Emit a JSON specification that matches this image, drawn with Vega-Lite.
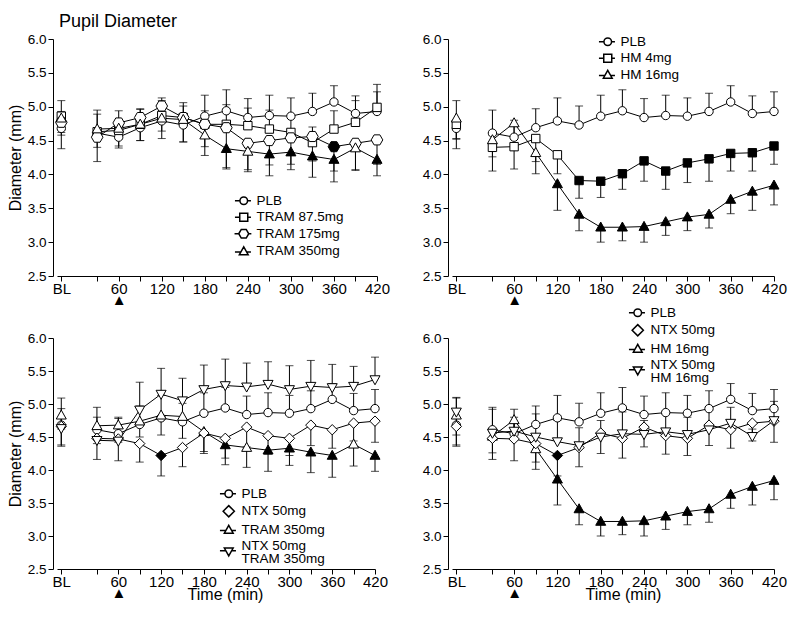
{
"$schema": "https://vega.github.io/schema/vega-lite/v6.json",
"background": "white",
"padding": {"left": 7, "top": 13, "right": 5, "bottom": 5},
"config": {
  "font": "Liberation Sans",
  "view": {"stroke": null},
  "style": {"guide-label": {"lineHeight": 12.5}},
  "axis": {"domainColor": "black", "tickColor": "black", "labelColor": "black", "titleColor": "black", "grid": false, "tickSize": 5, "domainWidth": 1, "tickWidth": 1, "titleFontWeight": "normal", "labelFlush": false, "labelOverlap": false, "labelFont": "Liberation Sans", "titleFont": "Liberation Sans"},
  "axisX": {"labelFontSize": 15, "labelPadding": 0, "labelLineHeight": 11, "titleFontSize": 16},
  "axisY": {"labelFontSize": 13.5, "labelPadding": 2, "offset": 4, "titleFontSize": 16, "titlePadding": 4},
  "legend": {"labelFont": "Liberation Sans", "labelFontSize": 13.5, "labelColor": "black", "symbolSize": 64, "labelOffset": 6, "rowPadding": 1.5, "padding": 0}
},
"datasets": {"d": [
{"s":"PLB","t":-20,"m":4.68,"hi":5.09,"lo":4.38,"f":0},
{"s":"PLB","t":30,"m":4.61,"hi":4.95,"lo":null,"f":0},
{"s":"PLB","t":60,"m":4.55,"hi":4.80,"lo":null,"f":0},
{"s":"PLB","t":90,"m":4.69,"hi":4.97,"lo":null,"f":0},
{"s":"PLB","t":120,"m":4.79,"hi":5.13,"lo":null,"f":0},
{"s":"PLB","t":150,"m":4.73,"hi":5.01,"lo":null,"f":0},
{"s":"PLB","t":180,"m":4.86,"hi":5.17,"lo":null,"f":0},
{"s":"PLB","t":210,"m":4.94,"hi":5.25,"lo":null,"f":0},
{"s":"PLB","t":240,"m":4.84,"hi":5.12,"lo":null,"f":0},
{"s":"PLB","t":270,"m":4.87,"hi":5.17,"lo":null,"f":0},
{"s":"PLB","t":300,"m":4.86,"hi":5.13,"lo":null,"f":0},
{"s":"PLB","t":330,"m":4.93,"hi":5.20,"lo":null,"f":0},
{"s":"PLB","t":360,"m":5.07,"hi":5.31,"lo":null,"f":0},
{"s":"PLB","t":390,"m":4.90,"hi":5.16,"lo":null,"f":0},
{"s":"PLB","t":420,"m":4.93,"hi":5.22,"lo":null,"f":0},
{"s":"TRAM 87.5mg","t":-20,"m":4.86,"hi":4.93,"lo":null,"f":0},
{"s":"TRAM 87.5mg","t":30,"m":4.63,"hi":4.89,"lo":null,"f":0},
{"s":"TRAM 87.5mg","t":60,"m":4.65,"hi":4.94,"lo":null,"f":0},
{"s":"TRAM 87.5mg","t":90,"m":4.74,"hi":4.96,"lo":null,"f":0},
{"s":"TRAM 87.5mg","t":120,"m":4.87,"hi":5.09,"lo":null,"f":0},
{"s":"TRAM 87.5mg","t":150,"m":4.84,"hi":5.06,"lo":null,"f":0},
{"s":"TRAM 87.5mg","t":180,"m":4.74,"hi":4.94,"lo":null,"f":0},
{"s":"TRAM 87.5mg","t":210,"m":4.74,"hi":5.03,"lo":null,"f":0},
{"s":"TRAM 87.5mg","t":240,"m":4.72,"hi":4.98,"lo":null,"f":0},
{"s":"TRAM 87.5mg","t":270,"m":4.67,"hi":4.95,"lo":null,"f":0},
{"s":"TRAM 87.5mg","t":300,"m":4.62,"hi":4.88,"lo":null,"f":0},
{"s":"TRAM 87.5mg","t":330,"m":4.47,"hi":4.70,"lo":null,"f":0},
{"s":"TRAM 87.5mg","t":360,"m":4.67,"hi":4.94,"lo":null,"f":0},
{"s":"TRAM 87.5mg","t":390,"m":4.77,"hi":5.09,"lo":null,"f":0},
{"s":"TRAM 87.5mg","t":420,"m":4.99,"hi":5.33,"lo":null,"f":0},
{"s":"TRAM 175mg","t":-20,"m":4.77,"hi":null,"lo":4.58,"f":0},
{"s":"TRAM 175mg","t":30,"m":4.55,"hi":null,"lo":4.19,"f":0},
{"s":"TRAM 175mg","t":60,"m":4.76,"hi":null,"lo":4.39,"f":0},
{"s":"TRAM 175mg","t":90,"m":4.84,"hi":null,"lo":4.50,"f":0},
{"s":"TRAM 175mg","t":120,"m":5.01,"hi":null,"lo":4.64,"f":0},
{"s":"TRAM 175mg","t":150,"m":4.84,"hi":null,"lo":4.48,"f":0},
{"s":"TRAM 175mg","t":180,"m":4.74,"hi":null,"lo":4.41,"f":0},
{"s":"TRAM 175mg","t":210,"m":4.69,"hi":null,"lo":4.10,"f":0},
{"s":"TRAM 175mg","t":240,"m":4.46,"hi":null,"lo":4.07,"f":0},
{"s":"TRAM 175mg","t":270,"m":4.50,"hi":null,"lo":4.14,"f":0},
{"s":"TRAM 175mg","t":300,"m":4.54,"hi":null,"lo":4.15,"f":0},
{"s":"TRAM 175mg","t":330,"m":4.56,"hi":null,"lo":4.20,"f":0},
{"s":"TRAM 175mg","t":360,"m":4.41,"hi":null,"lo":4.05,"f":1},
{"s":"TRAM 175mg","t":390,"m":4.46,"hi":null,"lo":4.07,"f":0},
{"s":"TRAM 175mg","t":420,"m":4.51,"hi":null,"lo":4.15,"f":0},
{"s":"TRAM 350mg","t":-20,"m":4.83,"hi":null,"lo":4.62,"f":0},
{"s":"TRAM 350mg","t":30,"m":4.67,"hi":null,"lo":4.40,"f":0},
{"s":"TRAM 350mg","t":60,"m":4.68,"hi":null,"lo":4.42,"f":0},
{"s":"TRAM 350mg","t":90,"m":4.74,"hi":null,"lo":4.50,"f":0},
{"s":"TRAM 350mg","t":120,"m":4.83,"hi":null,"lo":4.53,"f":0},
{"s":"TRAM 350mg","t":150,"m":4.81,"hi":null,"lo":4.48,"f":0},
{"s":"TRAM 350mg","t":180,"m":4.58,"hi":null,"lo":4.28,"f":0},
{"s":"TRAM 350mg","t":210,"m":4.38,"hi":null,"lo":4.08,"f":1},
{"s":"TRAM 350mg","t":240,"m":4.34,"hi":null,"lo":4.04,"f":0},
{"s":"TRAM 350mg","t":270,"m":4.30,"hi":null,"lo":3.98,"f":1},
{"s":"TRAM 350mg","t":300,"m":4.33,"hi":null,"lo":4.07,"f":1},
{"s":"TRAM 350mg","t":330,"m":4.27,"hi":null,"lo":3.96,"f":1},
{"s":"TRAM 350mg","t":360,"m":4.22,"hi":null,"lo":3.89,"f":1},
{"s":"TRAM 350mg","t":390,"m":4.39,"hi":null,"lo":4.06,"f":0},
{"s":"TRAM 350mg","t":420,"m":4.22,"hi":null,"lo":3.98,"f":1},
{"s":"HM 4mg","t":-20,"m":4.74,"hi":null,"lo":4.52,"f":0},
{"s":"HM 4mg","t":30,"m":4.40,"hi":null,"lo":4.05,"f":0},
{"s":"HM 4mg","t":60,"m":4.41,"hi":null,"lo":4.08,"f":0},
{"s":"HM 4mg","t":90,"m":4.53,"hi":null,"lo":4.19,"f":0},
{"s":"HM 4mg","t":120,"m":4.29,"hi":null,"lo":4.01,"f":0},
{"s":"HM 4mg","t":150,"m":3.91,"hi":null,"lo":3.65,"f":1},
{"s":"HM 4mg","t":180,"m":3.90,"hi":null,"lo":3.66,"f":1},
{"s":"HM 4mg","t":210,"m":4.01,"hi":null,"lo":3.78,"f":1},
{"s":"HM 4mg","t":240,"m":4.20,"hi":null,"lo":3.90,"f":1},
{"s":"HM 4mg","t":270,"m":4.05,"hi":null,"lo":3.78,"f":1},
{"s":"HM 4mg","t":300,"m":4.17,"hi":null,"lo":3.88,"f":1},
{"s":"HM 4mg","t":330,"m":4.23,"hi":null,"lo":3.90,"f":1},
{"s":"HM 4mg","t":360,"m":4.31,"hi":null,"lo":4.05,"f":1},
{"s":"HM 4mg","t":390,"m":4.32,"hi":null,"lo":4.05,"f":1},
{"s":"HM 4mg","t":420,"m":4.42,"hi":null,"lo":4.15,"f":1},
{"s":"HM 16mg","t":-20,"m":4.83,"hi":null,"lo":4.53,"f":0},
{"s":"HM 16mg","t":30,"m":4.51,"hi":null,"lo":4.26,"f":0},
{"s":"HM 16mg","t":60,"m":4.76,"hi":null,"lo":4.55,"f":0},
{"s":"HM 16mg","t":90,"m":4.32,"hi":null,"lo":4.01,"f":0},
{"s":"HM 16mg","t":120,"m":3.86,"hi":null,"lo":3.47,"f":1},
{"s":"HM 16mg","t":150,"m":3.41,"hi":null,"lo":3.17,"f":1},
{"s":"HM 16mg","t":180,"m":3.22,"hi":null,"lo":3.00,"f":1},
{"s":"HM 16mg","t":210,"m":3.22,"hi":null,"lo":3.02,"f":1},
{"s":"HM 16mg","t":240,"m":3.23,"hi":null,"lo":3.00,"f":1},
{"s":"HM 16mg","t":270,"m":3.30,"hi":null,"lo":3.10,"f":1},
{"s":"HM 16mg","t":300,"m":3.37,"hi":null,"lo":3.17,"f":1},
{"s":"HM 16mg","t":330,"m":3.41,"hi":null,"lo":3.21,"f":1},
{"s":"HM 16mg","t":360,"m":3.63,"hi":null,"lo":3.42,"f":1},
{"s":"HM 16mg","t":390,"m":3.75,"hi":null,"lo":3.47,"f":1},
{"s":"HM 16mg","t":420,"m":3.84,"hi":null,"lo":3.55,"f":1},
{"s":"NTX 50mg","t":-20,"m":4.66,"hi":null,"lo":4.36,"f":0},
{"s":"NTX 50mg","t":30,"m":4.48,"hi":null,"lo":4.16,"f":0},
{"s":"NTX 50mg","t":60,"m":4.47,"hi":null,"lo":4.14,"f":0},
{"s":"NTX 50mg","t":90,"m":4.40,"hi":null,"lo":4.12,"f":0},
{"s":"NTX 50mg","t":120,"m":4.22,"hi":null,"lo":3.91,"f":1},
{"s":"NTX 50mg","t":150,"m":4.34,"hi":null,"lo":4.05,"f":0},
{"s":"NTX 50mg","t":180,"m":4.56,"hi":null,"lo":4.25,"f":0},
{"s":"NTX 50mg","t":210,"m":4.48,"hi":null,"lo":4.18,"f":0},
{"s":"NTX 50mg","t":240,"m":4.65,"hi":null,"lo":4.35,"f":0},
{"s":"NTX 50mg","t":270,"m":4.52,"hi":null,"lo":4.24,"f":0},
{"s":"NTX 50mg","t":300,"m":4.48,"hi":null,"lo":4.22,"f":0},
{"s":"NTX 50mg","t":330,"m":4.68,"hi":null,"lo":4.37,"f":0},
{"s":"NTX 50mg","t":360,"m":4.61,"hi":null,"lo":4.33,"f":0},
{"s":"NTX 50mg","t":390,"m":4.71,"hi":null,"lo":4.44,"f":0},
{"s":"NTX 50mg","t":420,"m":4.74,"hi":null,"lo":4.42,"f":0},
{"s":"NTX 50mg + TRAM 350mg","t":-20,"m":4.63,"hi":4.93,"lo":null,"f":0},
{"s":"NTX 50mg + TRAM 350mg","t":30,"m":4.45,"hi":4.80,"lo":null,"f":0},
{"s":"NTX 50mg + TRAM 350mg","t":60,"m":4.44,"hi":4.78,"lo":null,"f":0},
{"s":"NTX 50mg + TRAM 350mg","t":90,"m":4.91,"hi":5.33,"lo":null,"f":0},
{"s":"NTX 50mg + TRAM 350mg","t":120,"m":5.15,"hi":5.54,"lo":null,"f":0},
{"s":"NTX 50mg + TRAM 350mg","t":150,"m":5.05,"hi":5.39,"lo":null,"f":0},
{"s":"NTX 50mg + TRAM 350mg","t":180,"m":5.22,"hi":5.59,"lo":null,"f":0},
{"s":"NTX 50mg + TRAM 350mg","t":210,"m":5.28,"hi":5.68,"lo":null,"f":0},
{"s":"NTX 50mg + TRAM 350mg","t":240,"m":5.26,"hi":5.62,"lo":null,"f":0},
{"s":"NTX 50mg + TRAM 350mg","t":270,"m":5.30,"hi":5.64,"lo":null,"f":0},
{"s":"NTX 50mg + TRAM 350mg","t":300,"m":5.22,"hi":5.58,"lo":null,"f":0},
{"s":"NTX 50mg + TRAM 350mg","t":330,"m":5.27,"hi":5.66,"lo":null,"f":0},
{"s":"NTX 50mg + TRAM 350mg","t":360,"m":5.25,"hi":5.60,"lo":null,"f":0},
{"s":"NTX 50mg + TRAM 350mg","t":390,"m":5.27,"hi":5.57,"lo":null,"f":0},
{"s":"NTX 50mg + TRAM 350mg","t":420,"m":5.37,"hi":5.71,"lo":null,"f":0},
{"s":"NTX 50mg + HM 16mg","t":-20,"m":4.88,"hi":5.10,"lo":null,"f":0},
{"s":"NTX 50mg + HM 16mg","t":30,"m":4.56,"hi":4.92,"lo":null,"f":0},
{"s":"NTX 50mg + HM 16mg","t":60,"m":4.59,"hi":4.92,"lo":null,"f":0},
{"s":"NTX 50mg + HM 16mg","t":90,"m":4.50,"hi":4.85,"lo":null,"f":0},
{"s":"NTX 50mg + HM 16mg","t":120,"m":4.43,"hi":4.75,"lo":null,"f":0},
{"s":"NTX 50mg + HM 16mg","t":150,"m":4.37,"hi":4.64,"lo":null,"f":0},
{"s":"NTX 50mg + HM 16mg","t":180,"m":4.50,"hi":4.75,"lo":null,"f":0},
{"s":"NTX 50mg + HM 16mg","t":210,"m":4.55,"hi":4.88,"lo":null,"f":0},
{"s":"NTX 50mg + HM 16mg","t":240,"m":4.54,"hi":4.75,"lo":null,"f":0},
{"s":"NTX 50mg + HM 16mg","t":270,"m":4.58,"hi":4.85,"lo":null,"f":0},
{"s":"NTX 50mg + HM 16mg","t":300,"m":4.54,"hi":4.80,"lo":null,"f":0},
{"s":"NTX 50mg + HM 16mg","t":330,"m":4.61,"hi":4.90,"lo":null,"f":0},
{"s":"NTX 50mg + HM 16mg","t":360,"m":4.71,"hi":4.95,"lo":null,"f":0},
{"s":"NTX 50mg + HM 16mg","t":390,"m":4.51,"hi":4.62,"lo":null,"f":0},
{"s":"NTX 50mg + HM 16mg","t":420,"m":4.75,"hi":5.04,"lo":null,"f":0}
]},
"spacing": -1,
"resolve": {"scale": {"shape": "independent", "fill": "independent", "x": "independent", "y": "independent"}, "legend": {"shape": "independent"}},
"vconcat": [
{"spacing": 32,
 "resolve": {"scale": {"shape": "independent", "fill": "independent", "x": "independent", "y": "independent"}, "legend": {"shape": "independent"}},
 "hconcat": [
 {"width": 320, "height": 237,
  "title": {"text": "Pupil Diameter", "anchor": "start", "frame": "group", "fontSize": 18, "fontWeight": "normal", "font": "Liberation Sans", "color": "black", "offset": 1, "dx": 2},
  "data": {"name": "d"},
  "transform": [{"filter": {"field": "s", "oneOf": ["PLB", "TRAM 87.5mg", "TRAM 175mg", "TRAM 350mg"]}}],
  "encoding": {
    "x": {"field": "t", "type": "quantitative", "scale": {"domain": [-26, 420], "nice": false, "zero": false}, "axis": {"values": [-20, 30, 60, 90, 120, 150, 180, 210, 240, 270, 300, 330, 360, 390, 420], "labelExpr": "datum.value == -20 ? 'BL' : datum.value == 60 ? ['60', '▲'] : datum.value % 60 == 0 ? datum.label : ''", "title": null}},
    "y": {"field": "m", "type": "quantitative", "scale": {"domain": [2.5, 6], "nice": false, "zero": false}, "axis": {"values": [2.5, 3, 3.5, 4, 4.5, 5, 5.5, 6], "format": ".1f", "title": "Diameter (mm)"}}
  },
  "resolve": {"scale": {"shape": "independent"}},
  "layer": [
    {"transform": [{"filter": "isValid(datum.hi)"}], "mark": {"type": "rule", "color": "black", "strokeWidth": 1}, "encoding": {"y2": {"field": "hi"}}},
    {"transform": [{"filter": "isValid(datum.lo)"}], "mark": {"type": "rule", "color": "black", "strokeWidth": 1}, "encoding": {"y2": {"field": "lo"}}},
    {"transform": [{"filter": "isValid(datum.hi)"}], "mark": {"type": "tick", "orient": "horizontal", "color": "black", "thickness": 1, "size": 8}, "encoding": {"y": {"field": "hi", "type": "quantitative", "scale": {"domain": [2.5, 6]}}}},
    {"transform": [{"filter": "isValid(datum.lo)"}], "mark": {"type": "tick", "orient": "horizontal", "color": "black", "thickness": 1, "size": 8}, "encoding": {"y": {"field": "lo", "type": "quantitative", "scale": {"domain": [2.5, 6]}}}},
    {"transform": [{"filter": "datum.t > 0"}], "mark": {"type": "line", "color": "black", "strokeWidth": 1}, "encoding": {"detail": {"field": "s"}}},
    {"mark": {"type": "point", "filled": true, "stroke": "black", "strokeWidth": 1, "size": 64, "opacity": 1},
     "encoding": {
       "shape": {"field": "s", "type": "nominal", "legend": null, "scale": {"domain": ["PLB", "TRAM 87.5mg", "TRAM 175mg", "TRAM 350mg"], "range": ["M-1.05,0A1.05,1.05,0,1,1,1.05,0A1.05,1.05,0,1,1,-1.05,0Z", "M-1.05,-1.05H1.05V1.05H-1.05Z", "M-1.45,0L-0.72,-1.26L0.72,-1.26L1.45,0L0.72,1.26L-0.72,1.26Z", "M0,-1.3L1.25,0.95L-1.25,0.95Z"]}},
       "fill": {"field": "f", "type": "nominal", "legend": null, "scale": {"domain": [0, 1], "range": ["white", "black"]}}}},
    {"transform": [{"filter": "false"}], "mark": {"type": "point", "filled": true, "fill": "white", "stroke": "black", "strokeWidth": 1, "size": 64, "opacity": 1},
     "encoding": {"shape": {"field": "s", "type": "nominal", "scale": {"domain": ["PLB", "TRAM 87.5mg", "TRAM 175mg", "TRAM 350mg"], "range": ["M-0.95,0A0.95,0.95,0,1,1,0.95,0A0.95,0.95,0,1,1,-0.95,0ZM-2.2,0H-0.95M0.95,0H1.8", "M-1,-1H1V1H-1ZM-2.2,0H-1M1,0H1.8", "M-1.25,0L-0.62,-1.08L0.62,-1.08L1.25,0L0.62,1.08L-0.62,1.08ZM-2.3,0H-1.25M1.25,0H1.9", "M0,-1.1L1.1,0.85L-1.1,0.85ZM-2.2,0.2H-0.75M0.75,0.2H1.8"]},
       "legend": {"title": null, "orient": "none", "legendX": 180, "legendY": 155}}}}
  ]
 },
 {"width": 322, "height": 237,
  "data": {"name": "d"},
  "transform": [{"filter": {"field": "s", "oneOf": ["PLB", "HM 4mg", "HM 16mg"]}}],
  "encoding": {
    "x": {"field": "t", "type": "quantitative", "scale": {"domain": [-26, 420], "nice": false, "zero": false}, "axis": {"values": [-20, 30, 60, 90, 120, 150, 180, 210, 240, 270, 300, 330, 360, 390, 420], "labelExpr": "datum.value == -20 ? 'BL' : datum.value == 60 ? ['60', '▲'] : datum.value % 60 == 0 ? datum.label : ''", "title": null}},
    "y": {"field": "m", "type": "quantitative", "scale": {"domain": [2.5, 6], "nice": false, "zero": false}, "axis": {"values": [2.5, 3, 3.5, 4, 4.5, 5, 5.5, 6], "format": ".1f", "title": null}}
  },
  "resolve": {"scale": {"shape": "independent"}},
  "layer": [
    {"transform": [{"filter": "isValid(datum.hi)"}], "mark": {"type": "rule", "color": "black", "strokeWidth": 1}, "encoding": {"y2": {"field": "hi"}}},
    {"transform": [{"filter": "isValid(datum.lo)"}], "mark": {"type": "rule", "color": "black", "strokeWidth": 1}, "encoding": {"y2": {"field": "lo"}}},
    {"transform": [{"filter": "isValid(datum.hi)"}], "mark": {"type": "tick", "orient": "horizontal", "color": "black", "thickness": 1, "size": 8}, "encoding": {"y": {"field": "hi", "type": "quantitative", "scale": {"domain": [2.5, 6]}}}},
    {"transform": [{"filter": "isValid(datum.lo)"}], "mark": {"type": "tick", "orient": "horizontal", "color": "black", "thickness": 1, "size": 8}, "encoding": {"y": {"field": "lo", "type": "quantitative", "scale": {"domain": [2.5, 6]}}}},
    {"transform": [{"filter": "datum.t > 0"}], "mark": {"type": "line", "color": "black", "strokeWidth": 1}, "encoding": {"detail": {"field": "s"}}},
    {"mark": {"type": "point", "filled": true, "stroke": "black", "strokeWidth": 1, "size": 64, "opacity": 1},
     "encoding": {
       "shape": {"field": "s", "type": "nominal", "legend": null, "scale": {"domain": ["PLB", "HM 4mg", "HM 16mg"], "range": ["M-1.05,0A1.05,1.05,0,1,1,1.05,0A1.05,1.05,0,1,1,-1.05,0Z", "M-1.05,-1.05H1.05V1.05H-1.05Z", "M0,-1.3L1.25,0.95L-1.25,0.95Z"]}},
       "fill": {"field": "f", "type": "nominal", "legend": null, "scale": {"domain": [0, 1], "range": ["white", "black"]}}}},
    {"transform": [{"filter": "false"}], "mark": {"type": "point", "filled": true, "fill": "white", "stroke": "black", "strokeWidth": 1, "size": 64, "opacity": 1},
     "encoding": {"shape": {"field": "s", "type": "nominal", "scale": {"domain": ["PLB", "HM 4mg", "HM 16mg"], "range": ["M-0.95,0A0.95,0.95,0,1,1,0.95,0A0.95,0.95,0,1,1,-0.95,0ZM-2.2,0H-0.95M0.95,0H1.8", "M-1,-1H1V1H-1ZM-2.2,0H-1M1,0H1.8", "M0,-1.1L1.1,0.85L-1.1,0.85ZM-2.2,0.2H-0.75M0.75,0.2H1.8"]},
       "legend": {"title": null, "orient": "none", "legendX": 149, "legendY": -4}}}}
  ]
 }
 ]
},
{"spacing": 34,
 "resolve": {"scale": {"shape": "independent", "fill": "independent", "x": "independent", "y": "independent"}, "legend": {"shape": "independent"}},
 "hconcat": [
 {"width": 318, "height": 231,
  "data": {"name": "d"},
  "transform": [{"filter": {"field": "s", "oneOf": ["PLB", "NTX 50mg", "TRAM 350mg", "NTX 50mg + TRAM 350mg"]}}],
  "encoding": {
    "x": {"field": "t", "type": "quantitative", "scale": {"domain": [-26, 420], "nice": false, "zero": false}, "axis": {"values": [-20, 30, 60, 90, 120, 150, 180, 210, 240, 270, 300, 330, 360, 390, 420], "labelExpr": "datum.value == -20 ? 'BL' : datum.value == 60 ? ['60', '▲'] : datum.value % 60 == 0 ? datum.label : ''", "title": "Time (min)", "titleY": 30, "titleX": 168, "titleBaseline": "alphabetic"}},
    "y": {"field": "m", "type": "quantitative", "scale": {"domain": [2.5, 6], "nice": false, "zero": false}, "axis": {"values": [2.5, 3, 3.5, 4, 4.5, 5, 5.5, 6], "format": ".1f", "title": "Diameter (mm)"}}
  },
  "resolve": {"scale": {"shape": "independent"}},
  "layer": [
    {"transform": [{"filter": "isValid(datum.hi)"}], "mark": {"type": "rule", "color": "black", "strokeWidth": 1}, "encoding": {"y2": {"field": "hi"}}},
    {"transform": [{"filter": "isValid(datum.lo)"}], "mark": {"type": "rule", "color": "black", "strokeWidth": 1}, "encoding": {"y2": {"field": "lo"}}},
    {"transform": [{"filter": "isValid(datum.hi)"}], "mark": {"type": "tick", "orient": "horizontal", "color": "black", "thickness": 1, "size": 8}, "encoding": {"y": {"field": "hi", "type": "quantitative", "scale": {"domain": [2.5, 6]}}}},
    {"transform": [{"filter": "isValid(datum.lo)"}], "mark": {"type": "tick", "orient": "horizontal", "color": "black", "thickness": 1, "size": 8}, "encoding": {"y": {"field": "lo", "type": "quantitative", "scale": {"domain": [2.5, 6]}}}},
    {"transform": [{"filter": "datum.t > 0"}], "mark": {"type": "line", "color": "black", "strokeWidth": 1}, "encoding": {"detail": {"field": "s"}}},
    {"mark": {"type": "point", "filled": true, "stroke": "black", "strokeWidth": 1, "size": 64, "opacity": 1},
     "encoding": {
       "shape": {"field": "s", "type": "nominal", "legend": null, "scale": {"domain": ["PLB", "NTX 50mg", "TRAM 350mg", "NTX 50mg + TRAM 350mg"], "range": ["M-1.05,0A1.05,1.05,0,1,1,1.05,0A1.05,1.05,0,1,1,-1.05,0Z", "M0,-1.3L1.3,0L0,1.3L-1.3,0Z", "M0,-1.3L1.25,0.95L-1.25,0.95Z", "M0,1.3L1.25,-0.95L-1.25,-0.95Z"]}},
       "fill": {"field": "f", "type": "nominal", "legend": null, "scale": {"domain": [0, 1], "range": ["white", "black"]}}}},
    {"transform": [{"filter": "false"}], "mark": {"type": "point", "filled": true, "fill": "white", "stroke": "black", "strokeWidth": 1, "size": 64, "opacity": 1},
     "encoding": {"shape": {"field": "s", "type": "nominal", "scale": {"domain": ["PLB", "NTX 50mg", "TRAM 350mg", "NTX 50mg + TRAM 350mg"], "range": ["M-0.95,0A0.95,0.95,0,1,1,0.95,0A0.95,0.95,0,1,1,-0.95,0ZM-2.2,0H-0.95M0.95,0H1.8", "M0,-1.4L1.4,0L0,1.4L-1.4,0Z", "M0,-1.1L1.1,0.85L-1.1,0.85ZM-2.2,0.2H-0.75M0.75,0.2H1.8", "M0,2.4L1.1,0.45L-1.1,0.45ZM-2.2,1.1H-0.75M0.75,1.1H1.8"]},
       "legend": {"title": null, "orient": "none", "legendX": 165, "legendY": 149, "labelExpr": "indexof(datum.label, ' + ') > 0 ? split(datum.label, ' + ') : datum.label"}}}}
  ]
 },
 {"width": 322, "height": 231,
  "data": {"name": "d"},
  "transform": [{"filter": {"field": "s", "oneOf": ["PLB", "NTX 50mg", "HM 16mg", "NTX 50mg + HM 16mg"]}}],
  "encoding": {
    "x": {"field": "t", "type": "quantitative", "scale": {"domain": [-26, 420], "nice": false, "zero": false}, "axis": {"values": [-20, 30, 60, 90, 120, 150, 180, 210, 240, 270, 300, 330, 360, 390, 420], "labelExpr": "datum.value == -20 ? 'BL' : datum.value == 60 ? ['60', '▲'] : datum.value % 60 == 0 ? datum.label : ''", "title": "Time (min)", "titleY": 30, "titleX": 171, "titleBaseline": "alphabetic"}},
    "y": {"field": "m", "type": "quantitative", "scale": {"domain": [2.5, 6], "nice": false, "zero": false}, "axis": {"values": [2.5, 3, 3.5, 4, 4.5, 5, 5.5, 6], "format": ".1f", "title": null}}
  },
  "resolve": {"scale": {"shape": "independent"}},
  "layer": [
    {"transform": [{"filter": "isValid(datum.hi)"}], "mark": {"type": "rule", "color": "black", "strokeWidth": 1}, "encoding": {"y2": {"field": "hi"}}},
    {"transform": [{"filter": "isValid(datum.lo)"}], "mark": {"type": "rule", "color": "black", "strokeWidth": 1}, "encoding": {"y2": {"field": "lo"}}},
    {"transform": [{"filter": "isValid(datum.hi)"}], "mark": {"type": "tick", "orient": "horizontal", "color": "black", "thickness": 1, "size": 8}, "encoding": {"y": {"field": "hi", "type": "quantitative", "scale": {"domain": [2.5, 6]}}}},
    {"transform": [{"filter": "isValid(datum.lo)"}], "mark": {"type": "tick", "orient": "horizontal", "color": "black", "thickness": 1, "size": 8}, "encoding": {"y": {"field": "lo", "type": "quantitative", "scale": {"domain": [2.5, 6]}}}},
    {"transform": [{"filter": "datum.t > 0"}], "mark": {"type": "line", "color": "black", "strokeWidth": 1}, "encoding": {"detail": {"field": "s"}}},
    {"mark": {"type": "point", "filled": true, "stroke": "black", "strokeWidth": 1, "size": 64, "opacity": 1},
     "encoding": {
       "shape": {"field": "s", "type": "nominal", "legend": null, "scale": {"domain": ["PLB", "NTX 50mg", "HM 16mg", "NTX 50mg + HM 16mg"], "range": ["M-1.05,0A1.05,1.05,0,1,1,1.05,0A1.05,1.05,0,1,1,-1.05,0Z", "M0,-1.3L1.3,0L0,1.3L-1.3,0Z", "M0,-1.3L1.25,0.95L-1.25,0.95Z", "M0,1.3L1.25,-0.95L-1.25,-0.95Z"]}},
       "fill": {"field": "f", "type": "nominal", "legend": null, "scale": {"domain": [0, 1], "range": ["white", "black"]}}}},
    {"transform": [{"filter": "false"}], "mark": {"type": "point", "filled": true, "fill": "white", "stroke": "black", "strokeWidth": 1, "size": 64, "opacity": 1},
     "encoding": {"shape": {"field": "s", "type": "nominal", "scale": {"domain": ["PLB", "NTX 50mg", "HM 16mg", "NTX 50mg + HM 16mg"], "range": ["M-0.95,0A0.95,0.95,0,1,1,0.95,0A0.95,0.95,0,1,1,-0.95,0ZM-2.2,0H-0.95M0.95,0H1.8", "M0,-1.4L1.4,0L0,1.4L-1.4,0Z", "M0,-1.1L1.1,0.85L-1.1,0.85ZM-2.2,0.2H-0.75M0.75,0.2H1.8", "M0,2.4L1.1,0.45L-1.1,0.45ZM-2.2,1.1H-0.75M0.75,1.1H1.8"]},
       "legend": {"title": null, "orient": "none", "legendX": 179, "legendY": -32, "labelExpr": "indexof(datum.label, ' + ') > 0 ? split(datum.label, ' + ') : datum.label"}}}}
  ]
 }
 ]
}
]
}
